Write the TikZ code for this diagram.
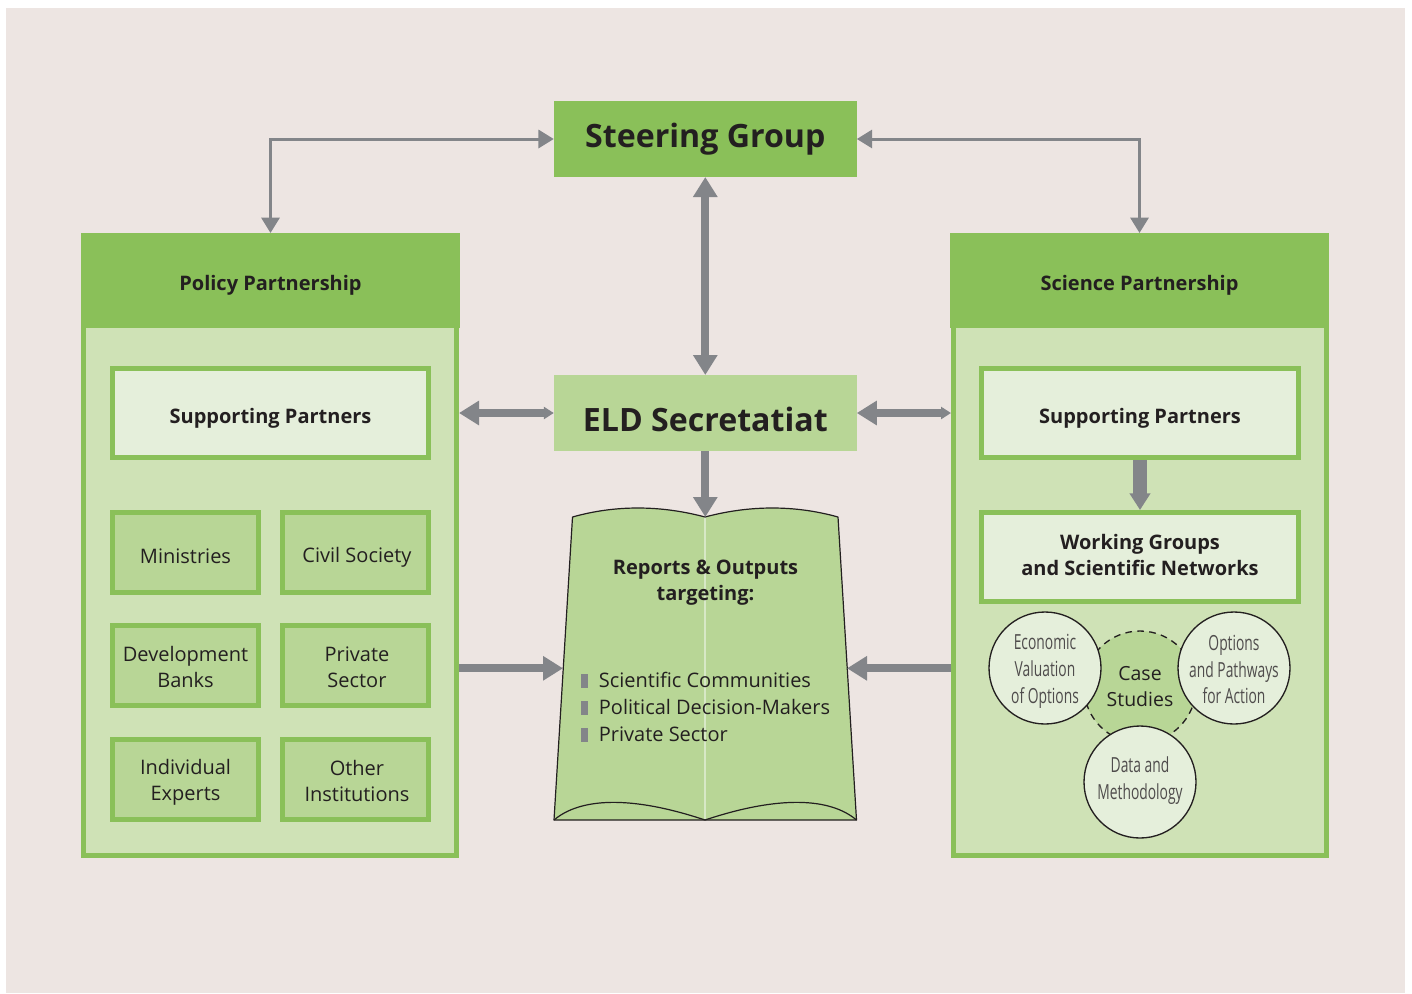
\documentclass[tikz,border=0pt]{standalone}
\usepackage{fontspec}
\setmainfont{Open Sans}
\newfontfamily\condfont[FakeStretch=0.665]{Open Sans}
\usetikzlibrary{arrows.meta,positioning}
\definecolor{bgc}{HTML}{EDE5E2}
\definecolor{darkg}{HTML}{8AC059}
\definecolor{midg}{HTML}{B8D696}
\definecolor{paleg}{HTML}{CFE2B6}
\definecolor{lightg}{HTML}{E5EFDB}
\definecolor{arrowg}{HTML}{838589}
\definecolor{inkc}{HTML}{231F20}
\newcommand{\bul}{\textcolor{arrowg}{\rule{5.6pt}{10.5pt}}\hspace{8pt}}
\newcommand{\st}[2]{\rule[-#2pt]{0pt}{\dimexpr#1pt+#2pt\relax}}
\newcommand{\one}[1]{\st{19}{3.1}#1}
\newcommand{\two}[2]{\st{15.6}{1.5}#1\\\st{15.6}{1.5}#2}
\newcommand{\pad}{\hspace*{2.2pt}}
\newcommand{\hd}[1]{\st{19}{3.6}#1}
\tikzset{
  x=.75pt,y=-.75pt,
  every node/.style={text=inkc,inner sep=0pt},
  solidbox/.style={fill=#1,outer sep=0pt,minimum width=227.25pt,minimum height=57pt,align=center},
  panelbox/.style={fill=paleg,draw=darkg,line width=3.75pt,minimum width=279.75pt,minimum height=408pt},
  headbox/.style={fill=darkg,outer sep=0pt,minimum width=284.25pt,minimum height=71.25pt,font=\fontsize{15}{19.5}\selectfont\bfseries,align=center},
  widebox/.style={fill=lightg,draw=darkg,line width=3.75pt,minimum width=237pt,minimum height=66.75pt,font=\fontsize{15}{19.5}\selectfont\bfseries,align=center},
  smallbox/.style={fill=midg,draw=darkg,line width=3.75pt,minimum width=109.5pt,minimum height=60pt,font=\fontsize{15}{19.5}\selectfont,align=center},
  bubble/.style={circle,fill=lightg,draw=inkc,line width=1pt,minimum size=84pt},
  bubtext/.style={font=\condfont\fontsize{15.6}{20}\selectfont,align=center,text=inkc!80,yshift=#1},
  dashbubble/.style={circle,fill=midg,draw=inkc,line width=1pt,dash pattern=on 5pt off 4pt,minimum size=84pt,font=\fontsize{14.6}{19.5}\selectfont,align=center},
  thinlink/.style={draw=arrowg,line width=2.25pt,{Triangle[length=11.5pt,width=13.5pt]}-{Triangle[length=11.5pt,width=13.5pt]}},
  fatlink/.style={draw=arrowg,line width=6pt,-{Triangle[length=15pt,width=17.5pt]}},
  fatboth/.style={draw=arrowg,line width=6pt,{Triangle[length=15pt,width=17.5pt]}-{Triangle[length=15pt,width=17.5pt]}},
  fatlr/.style={draw=arrowg,line width=6pt,{Triangle[length=15pt,width=17.5pt]}-{Triangle[length=7.5pt,width=9pt]}},
  fatrl/.style={draw=arrowg,line width=6pt,{Triangle[length=7.5pt,width=9pt]}-{Triangle[length=15pt,width=17.5pt]}},
}
\begin{document}
\begin{tikzpicture}
\useasboundingbox (0,0) rectangle (1412,993);
\fill[bgc] (6,8) rectangle (1405,993);

% panels
\node[panelbox] (policypanel) at (270,583) {};
\node[panelbox] (sciencepanel) at (1140,583) {};
\node[headbox] (policyhead) at (270.5,280.5) {\hd{Policy Partnership}};
\node[headbox] (sciencehead) at (1139.5,280.5) {\hd{Science Partnership}};

% central boxes
\node[solidbox=darkg,font=\fontsize{24.1}{30}\selectfont\bfseries] (steering) at (705.3,139) {Steering Group};
\node[solidbox=midg,font=\fontsize{24.1}{30}\selectfont\bfseries] (eld) at (705.3,413) {\st{32}{4}ELD Secretatiat};

% left panel
\node[widebox] (supleft) at (270.5,413) {\hd{Supporting Partners}};
\node[smallbox] (minis) at (185.5,552.5) {\one{Ministries}};
\node[smallbox] (civil) at (355.5,552.5) {\pad\one{Civil Society}};
\node[smallbox] (devb) at (185.5,665.5) {\two{Development}{Banks}};
\node[smallbox] (priv) at (355.5,665.5) {\two{\pad Private}{\pad Sector}};
\node[smallbox] (indiv) at (185.5,779) {\two{Individual}{Experts}};
\node[smallbox] (other) at (355.5,779) {\two{\pad Other}{\pad Institutions}};

% right panel
\node[widebox,minimum width=237.75pt] (supright) at (1140,413) {\hd{Supporting Partners}};
\node[widebox,minimum width=237.75pt] (working) at (1140,557) {\st{11.6}{3.2}Working Groups\\\st{11.6}{3.2}and Scientific Networks};
\node[dashbubble] (cases) at (1140,687) {Case\\Studies};
\node[bubble,label={[bubtext=-2.6pt]center:Economic\\Valuation\\of Options}] (econ) at (1045,668) {};
\node[bubble,label={[bubtext=-1.1pt]center:Options\\and Pathways\\for Action}] (paths) at (1234,668) {};
\node[bubble,label={[bubtext=1.2pt]center:Data and\\Methodology}] (data) at (1140,782) {};

% book
\fill[midg] (572.5,517) .. controls (615,505) and (660,505) .. (705,517)
  .. controls (750,505) and (795,505) .. (838,517) -- (856.5,820) -- (554,820) -- cycle;
\draw[lightg!70!midg,line width=1.5pt] (705,517) -- (705,820);
\draw[inkc,line width=.9pt,line join=round] (572.5,517) .. controls (615,505) and (660,505) .. (705,517)
  .. controls (750,505) and (795,505) .. (838,517) -- (856.5,820) -- (554,820) -- cycle;
\draw[inkc,line width=.9pt] (554,820) .. controls (580,798) and (630,795) .. (705,820)
  .. controls (780,795) and (830.5,798) .. (856.5,820);
\coordinate (booktop) at (705.3,517);
\coordinate (bookleft) at (563,668.3);
\coordinate (bookright) at (847,668.3);
\node[font=\fontsize{15}{19.5}\selectfont\bfseries,align=center] (booktitle) at (705.5,583) {Reports \& Outputs\\targeting:};
\node[font=\fontsize{15}{20.25}\selectfont,align=left,anchor=north west] (booklist) at (580.5,672)
  {\bul Scientific Communities\\\bul Political Decision-Makers\\\bul Private Sector};

% connectors
\draw[thinlink] (steering.west) -| (policyhead.north);
\draw[thinlink] (steering.east) -| (sciencehead.north);
\draw[fatboth] (steering.south) -- (eld.north);
\draw[fatlink] (eld.south) -- (booktop);
\draw[fatrl] (eld.west) -- (policypanel.east |- eld.west);
\draw[fatlr] (eld.east) -- (sciencepanel.west |- eld.east);
\draw[fatlink] (policypanel.east |- bookleft) -- (bookleft);
\draw[fatlink] (sciencepanel.west |- bookright) -- (bookright);
\draw[draw=arrowg,line width=10pt,-{Triangle[length=12.5pt,width=15pt]}] (supright.south) -- (working.north);
\end{tikzpicture}
\end{document}
